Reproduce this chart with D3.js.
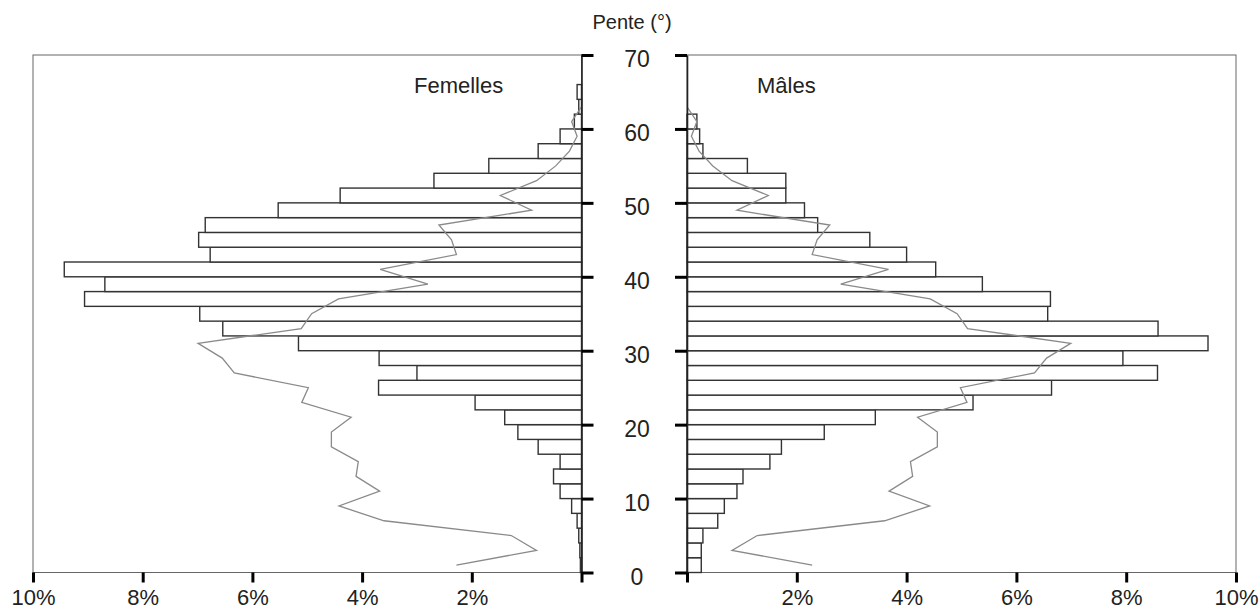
<!DOCTYPE html>
<html>
<head>
<meta charset="utf-8">
<script src="https://cdn.jsdelivr.net/npm/d3@7"></script>
<style>
  html, body { margin: 0; padding: 0; background: #fff; }
  svg { display: block; }
  text { font-family: "Liberation Sans", Arial, sans-serif; fill: #222; }
</style>
</head>
<body>
<svg id="chart" width="1259" height="609"></svg>
<script>
// Slope classes: 2° bins, lower bound of each bin
const binWidth = 2;

// Share of observations per slope bin (%), females: bins 0–2 … 64–66
const femelles = [0.02, 0.03, 0.05, 0.08, 0.18, 0.39, 0.51, 0.39, 0.79, 1.16,
                  1.40, 1.94, 3.70, 3.00, 3.69, 5.16, 6.54, 6.96, 9.06, 8.69,
                  9.43, 6.77, 6.98, 6.86, 5.53, 4.40, 2.69, 1.69, 0.79, 0.39,
                  0.13, 0.05, 0.08];

// Males: bins 0–2 … 60–62
const males = [0.26, 0.26, 0.29, 0.56, 0.68, 0.91, 1.02, 1.51, 1.72, 2.50,
               3.43, 5.21, 6.64, 8.57, 7.94, 9.49, 8.58, 6.57, 6.62, 5.38,
               4.53, 4.00, 3.33, 2.38, 2.14, 1.80, 1.80, 1.10, 0.29, 0.23,
               0.18];

// Available terrain per slope bin (%), plotted at bin centres 1°, 3°, … 63°
const terrain = [2.28, 0.82, 1.28, 3.60, 4.42, 3.68, 4.11, 4.07, 4.56, 4.56,
                 4.20, 5.10, 4.98, 6.33, 6.55, 6.99, 5.11, 4.92, 4.43, 2.80,
                 3.67, 2.28, 2.37, 2.60, 0.91, 1.48, 0.82, 0.47, 0.22, 0.08,
                 0.18, 0.00];

const slopeTicks = [0, 10, 20, 30, 40, 50, 60, 70];
const pctTicks = [0, 2, 4, 6, 8, 10];

const svg = d3.select("#chart");

const y = d3.scaleLinear().domain([0, 70]).range([572.5, 55]);
const xL = d3.scaleLinear().domain([0, 10]).range([581.5, 33]);
const xR = d3.scaleLinear().domain([0, 10]).range([687, 1236]);

const toBins = arr => arr.map((v, i) => ({ lo: i * binWidth, hi: (i + 1) * binWidth, v }));
const terrainPts = terrain.map((v, i) => ({ s: i * binWidth + binWidth / 2, v }));

function panel(xs, values, side, title, titleX) {
  const g = svg.append("g");

  // panel frame
  const x0 = Math.min(xs(0), xs(10)), x1 = Math.max(xs(0), xs(10));
  g.append("rect")
    .attr("x", x0).attr("y", y(70))
    .attr("width", x1 - x0).attr("height", y(0) - y(70))
    .attr("fill", "none").attr("stroke", "#666").attr("stroke-width", 1);

  // bars
  g.selectAll("rect.bar").data(toBins(values)).join("rect")
    .attr("class", "bar")
    .attr("x", d => Math.min(xs(0), xs(d.v)))
    .attr("width", d => Math.abs(xs(d.v) - xs(0)))
    .attr("y", d => y(d.hi))
    .attr("height", d => y(d.lo) - y(d.hi))
    .attr("fill", "#fff")
    .attr("stroke", "#333")
    .attr("stroke-width", 1.4);

  // terrain line
  g.append("path")
    .datum(terrainPts)
    .attr("d", d3.line().x(d => xs(d.v)).y(d => y(d.s)))
    .attr("fill", "none")
    .attr("stroke", "#8a8a8a")
    .attr("stroke-width", 1.3);

  // vertical slope axis on the inner edge
  const ax = side === "left" ? d3.axisRight(y) : d3.axisLeft(y);
  const ga = g.append("g")
    .attr("transform", `translate(${xs(0)},0)`)
    .call(ax.tickValues(slopeTicks).tickSize(12).tickSizeOuter(0).tickFormat(""));
  ga.select(".domain").attr("stroke", "#222").attr("stroke-width", 1.6);
  ga.selectAll(".tick line").attr("stroke", "#000").attr("stroke-width", 3);

  // percentage axis
  const gb = g.append("g")
    .attr("transform", `translate(0,${y(0)})`)
    .call(d3.axisBottom(xs).tickValues(pctTicks).tickSize(10).tickSizeOuter(0).tickPadding(7)
      .tickFormat(d => d === 0 ? "" : d + "%"));
  gb.select(".domain").remove();
  gb.selectAll(".tick line").attr("stroke", "#000").attr("stroke-width", 3);
  gb.selectAll(".tick text")
    .attr("font-size", 22)
    .style("font-family", "'Liberation Sans', Arial, sans-serif")
    .attr("fill", "#222");

  g.append("text")
    .attr("x", titleX).attr("y", 93)
    .attr("font-size", 22)
    .text(title);
}

panel(xL, femelles, "left", "Femelles", 414);
panel(xR, males, "right", "Mâles", 757);

// slope labels between the panels
svg.append("g").selectAll("text").data(slopeTicks).join("text")
  .attr("x", 637)
  .attr("y", d => y(d) + 12)
  .attr("text-anchor", "middle")
  .attr("font-size", 23)
  .text(d => d);

svg.append("text")
  .attr("x", 632).attr("y", 29)
  .attr("text-anchor", "middle")
  .attr("font-size", 20)
  .text("Pente (°)");
</script>
</body>
</html>
